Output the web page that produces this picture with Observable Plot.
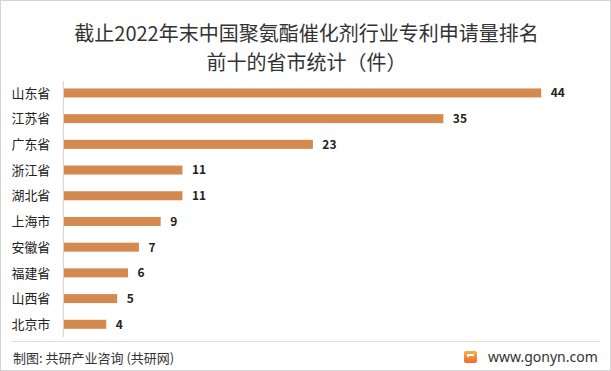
<!DOCTYPE html>
<html><head><meta charset="utf-8">
<script src="https://cdn.jsdelivr.net/npm/d3@7"></script>
<script src="https://cdn.jsdelivr.net/npm/@observablehq/plot@0.6"></script>
<style>
body{margin:0;background:#fff;font-family:"Noto Sans CJK SC","Noto Sans",sans-serif;}
#wrap{position:relative;width:611px;height:371px;box-sizing:border-box;border:1px solid #d4d4d4;overflow:hidden;}
.t{position:absolute;left:0;width:611px;text-align:center;font-size:20px;color:#333;line-height:1;}
#chart{position:absolute;left:0;top:78px;}
#sep{position:absolute;left:10px;width:589px;top:340px;height:0;border-top:1px solid #e2e2e2;}
#src{position:absolute;left:12px;top:348px;font-size:13px;color:#333;line-height:18px;}
#site{position:absolute;left:487px;top:347px;font-size:14px;color:#333;line-height:18px;font-family:"Noto Sans",sans-serif;}
#logo{position:absolute;left:463px;top:350px;width:13px;height:12px;background:linear-gradient(#f7b042,#f06a2e);border-radius:2px;}
#logo:after{content:"";position:absolute;left:3px;top:3px;width:7px;height:3px;border-top:2px solid #fff;border-left:2px solid #fff;box-sizing:border-box;}
</style></head>
<body>
<div id="wrap">
<div class="t" style="top:22px">截止2022年末中国聚氨酯催化剂行业专利申请量排名</div>
<div class="t" style="top:51px">前十的省市统计（件）</div>
<div id="chart"></div>
<div id="sep"></div>
<div id="src">制图: 共研产业咨询 (共研网)</div>
<div id="logo"></div>
<div id="site">www.gonyn.com</div>
</div>
<script>
const provinces = ["山东省","江苏省","广东省","浙江省","湖北省","上海市","安徽省","福建省","山西省","北京市"];
const counts = [44,35,23,11,11,9,7,6,5,4];
const data = provinces.map((p,i)=>({name:p, value:counts[i]}));
const chart = Plot.plot({
  width: 611,
  height: 263,
  marginLeft: 0, marginRight: 0, marginTop: 2, marginBottom: 4,
  style: {fontFamily: '"Noto Sans CJK SC","Noto Sans",sans-serif', background: "transparent"},
  x: {domain: [0, 44], range: [62, 542], axis: null},
  y: {domain: provinces, range: [1.1, 259], paddingInner: 0.65, paddingOuter: 0.325, round: false, axis: null},
  marks: [
    Plot.barX(data, {y: "name", x: "value", fill: "#d48a4f", insetLeft: 1}),
    Plot.ruleX([0], {stroke: "#d0d0d0"}),
    Plot.text(data, {y: "name", text: "name", frameAnchor: "left", dx: 10, textAnchor: "start", fontSize: 13, fill: "#222"}),
    Plot.text(data, {y: "name", x: "value", text: d => String(d.value), dx: 9, textAnchor: "start", fontSize: 12, fontWeight: "bold", fill: "#222"})
  ]
});
document.getElementById("chart").appendChild(chart);
</script>
</body></html>
